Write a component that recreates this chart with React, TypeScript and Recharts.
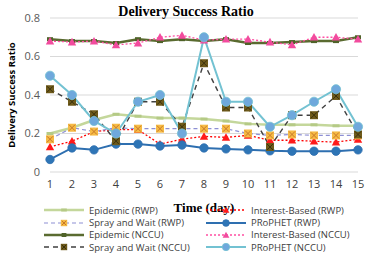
import React from "react"
import { LineChart, Line, XAxis, YAxis, CartesianGrid } from "recharts"

// values, one per day
const days = ["1", "2", "3", "4", "5", "6", "7", "8", "9", "10", "11", "12", "13", "14", "15"]
const epidemicRwp = [0.2, 0.23, 0.27, 0.3, 0.29, 0.28, 0.28, 0.275, 0.265, 0.25, 0.245, 0.245, 0.245, 0.24, 0.24]
const interestRwp = [0.13, 0.16, 0.21, 0.22, 0.22, 0.145, 0.17, 0.185, 0.18, 0.19, 0.165, 0.165, 0.16, 0.155, 0.17]
const sprayRwp = [0.17, 0.23, 0.21, 0.23, 0.225, 0.225, 0.225, 0.225, 0.225, 0.2, 0.19, 0.195, 0.19, 0.19, 0.19]
const prophetRwp = [0.065, 0.125, 0.115, 0.145, 0.145, 0.135, 0.14, 0.125, 0.12, 0.115, 0.11, 0.108, 0.108, 0.108, 0.115]
const epidemicNccu = [0.69, 0.68, 0.68, 0.67, 0.69, 0.68, 0.69, 0.68, 0.69, 0.67, 0.67, 0.675, 0.68, 0.68, 0.7]
const interestNccu = [0.68, 0.675, 0.68, 0.66, 0.67, 0.7, 0.71, 0.685, 0.69, 0.69, 0.675, 0.66, 0.7, 0.7, 0.69]
const sprayNccu = [0.43, 0.365, 0.3, 0.16, 0.365, 0.365, 0.235, 0.565, 0.335, 0.335, 0.13, 0.295, 0.295, 0.395, 0.195]
const prophetNccu = [0.5, 0.4, 0.265, 0.2, 0.365, 0.4, 0.2, 0.7, 0.365, 0.365, 0.235, 0.295, 0.365, 0.43, 0.235]
const yTicks = [0, 0.2, 0.4, 0.6, 0.8]

const data = days.map((d, i) => ({
  day: d,
  epidemicRwp: epidemicRwp[i],
  interestRwp: interestRwp[i],
  sprayRwp: sprayRwp[i],
  prophetRwp: prophetRwp[i],
  epidemicNccu: epidemicNccu[i],
  interestNccu: interestNccu[i],
  sprayNccu: sprayNccu[i],
  prophetNccu: prophetNccu[i],
}))

type Marker = "dash" | "sq" | "xsq" | "tri" | "circle"

type Series = {
  key: string
  name: string
  stroke: string
  width: number
  dash?: string
  marker: Marker
  fill: string
  mark: string
}

const SERIES: Series[] = [
  { key: "epidemicRwp", name: "Epidemic (RWP)", stroke: "#c4d79b", width: 2.5, marker: "dash", fill: "#b5ca86", mark: "#b5ca86" },
  { key: "interestRwp", name: "Interest-Based (RWP)", stroke: "#ff0000", width: 1.3, dash: "2 2", marker: "tri", fill: "#ff1a1a", mark: "#ff0000" },
  { key: "sprayRwp", name: "Spray and Wait (RWP)", stroke: "#8d8fd4", width: 1.2, dash: "4 3", marker: "xsq", fill: "#f6bb45", mark: "#c7782a" },
  { key: "prophetRwp", name: "PRoPHET (RWP)", stroke: "#2e6fb0", width: 2, marker: "circle", fill: "#2e75b6", mark: "#2e6fb0" },
  { key: "epidemicNccu", name: "Epidemic (NCCU)", stroke: "#5a6b30", width: 2.5, marker: "sq", fill: "#4f6228", mark: "#4f6228" },
  { key: "interestNccu", name: "Interest-Based (NCCU)", stroke: "#ff4fa3", width: 1.3, dash: "2 2", marker: "tri", fill: "#f24b9e", mark: "#f24b9e" },
  { key: "sprayNccu", name: "Spray and Wait (NCCU)", stroke: "#404040", width: 1.4, dash: "5 4", marker: "xsq", fill: "#6e5a1a", mark: "#3a300c" },
  { key: "prophetNccu", name: "PRoPHET (NCCU)", stroke: "#73c2d2", width: 2, marker: "circle", fill: "#6fa8dc", mark: "#73c2d2" },
]

function markerShape(s: Series, cx: number, cy: number, key?: string, scale = 1) {
  const k = key
  switch (s.marker) {
    case "dash":
      return <rect key={k} x={cx - 3.5 * scale} y={cy - 1.5} width={7 * scale} height={3} fill={s.fill} />
    case "sq":
      return <rect key={k} x={cx - 3 * scale} y={cy - 2} width={6 * scale} height={4} fill={s.fill} />
    case "xsq": {
      const h = 4 * scale
      return (
        <g key={k}>
          <rect x={cx - h} y={cy - h} width={h * 2} height={h * 2} fill={s.fill} />
          <line x1={cx - h + 1} y1={cy - h + 1} x2={cx + h - 1} y2={cy + h - 1} stroke={s.mark} strokeWidth={1} />
          <line x1={cx + h - 1} y1={cy - h + 1} x2={cx - h + 1} y2={cy + h - 1} stroke={s.mark} strokeWidth={1} />
        </g>
      )
    }
    case "tri": {
      const h = 4.2 * scale
      return <polygon key={k} points={`${cx},${cy - h} ${cx + h},${cy + h * 0.8} ${cx - h},${cy + h * 0.8}`} fill={s.fill} />
    }
    default: {
      const r = (s.key === "prophetNccu" ? 4.6 : 4.2) * scale
      return <circle key={k} cx={cx} cy={cy} r={r} fill={s.fill} stroke={s.mark} strokeWidth={0.8} />
    }
  }
}

const makeDot = (s: Series) => (props: any) => {
  const { cx, cy, index } = props
  if (cx == null || cy == null) return <g key={`${s.key}-${index}`} />
  return markerShape(s, cx, cy, `${s.key}-${index}`)
}

function LegendBox() {
  const item = (s: Series) => (
    <div key={s.key} style={{ display: "flex", alignItems: "center", height: 12.4 }}>
      <svg width={40} height={10} style={{ marginRight: 5 }}>
        <line x1={0} y1={5} x2={40} y2={5} stroke={s.stroke} strokeWidth={s.width} strokeDasharray={s.dash} />
        {markerShape(s, 20, 5, undefined, 0.8)}
      </svg>
      <span>{s.name}</span>
    </div>
  )
  const left = [SERIES[0], SERIES[2], SERIES[4], SERIES[6]]
  const right = [SERIES[1], SERIES[3], SERIES[5], SERIES[7]]
  return (
    <div
      style={{
        position: "absolute",
        top: 204,
        left: 44,
        display: "flex",
        fontFamily: "'Open Sans', sans-serif",
        fontSize: 9.5,
        color: "#404040",
        whiteSpace: "nowrap",
      }}
    >
      <div style={{ width: 162 }}>{left.map(item)}</div>
      <div>{right.map(item)}</div>
    </div>
  )
}

export default function App() {
  return (
    <div style={{ position: "absolute", left: 0, top: 0, width: 374, height: 258, background: "#fff" }}>
      <div
        style={{
          position: "absolute",
          top: 4,
          left: 0,
          width: 372,
          textAlign: "center",
          fontFamily: "'Liberation Serif', serif",
          fontWeight: "bold",
          fontSize: 14,
          color: "#000",
          zIndex: 2,
        }}
      >
        Delivery Success Ratio
      </div>
      <LineChart width={374} height={258} data={data} margin={{ top: 18, right: 16, bottom: 44, left: 0 }}>
        <CartesianGrid vertical={false} stroke="#d9d9d9" />
        <XAxis
          dataKey="day"
          height={42}
          tickLine={false}
          axisLine={false}
          interval={0}
          tick={{ fontSize: 11, fill: "#404040", fontFamily: "'Open Sans', sans-serif" }}
          label={{
            value: "Time (day)",
            position: "insideBottom",
            offset: 2,
            style: { fontFamily: "'Liberation Serif', serif", fontWeight: "bold", fontSize: 13, fill: "#000" },
          }}
        />
        <YAxis
          width={50}
          domain={[0, 0.8]}
          ticks={yTicks}
          tickLine={false}
          axisLine={false}
          tickMargin={4}
          tickFormatter={(v: number) => (v === 0 ? "0" : v.toFixed(1))}
          tick={{ fontSize: 11, fill: "#595959", fontFamily: "'Open Sans', sans-serif" }}
          label={{
            value: "Delivery Success Ratio",
            angle: -90,
            position: "insideLeft",
            offset: 12,
            style: { textAnchor: "middle", fontFamily: "'Open Sans', sans-serif", fontWeight: "bold", fontSize: 9.5, fill: "#000" },
          }}
        />
        {SERIES.map((s) => (
          <Line
            key={s.key}
            type="linear"
            dataKey={s.key}
            name={s.name}
            stroke={s.stroke}
            strokeWidth={s.width}
            strokeDasharray={s.dash}
            dot={makeDot(s)}
            activeDot={false}
            isAnimationActive={false}
          />
        ))}
      </LineChart>
      <LegendBox />
    </div>
  )
}
